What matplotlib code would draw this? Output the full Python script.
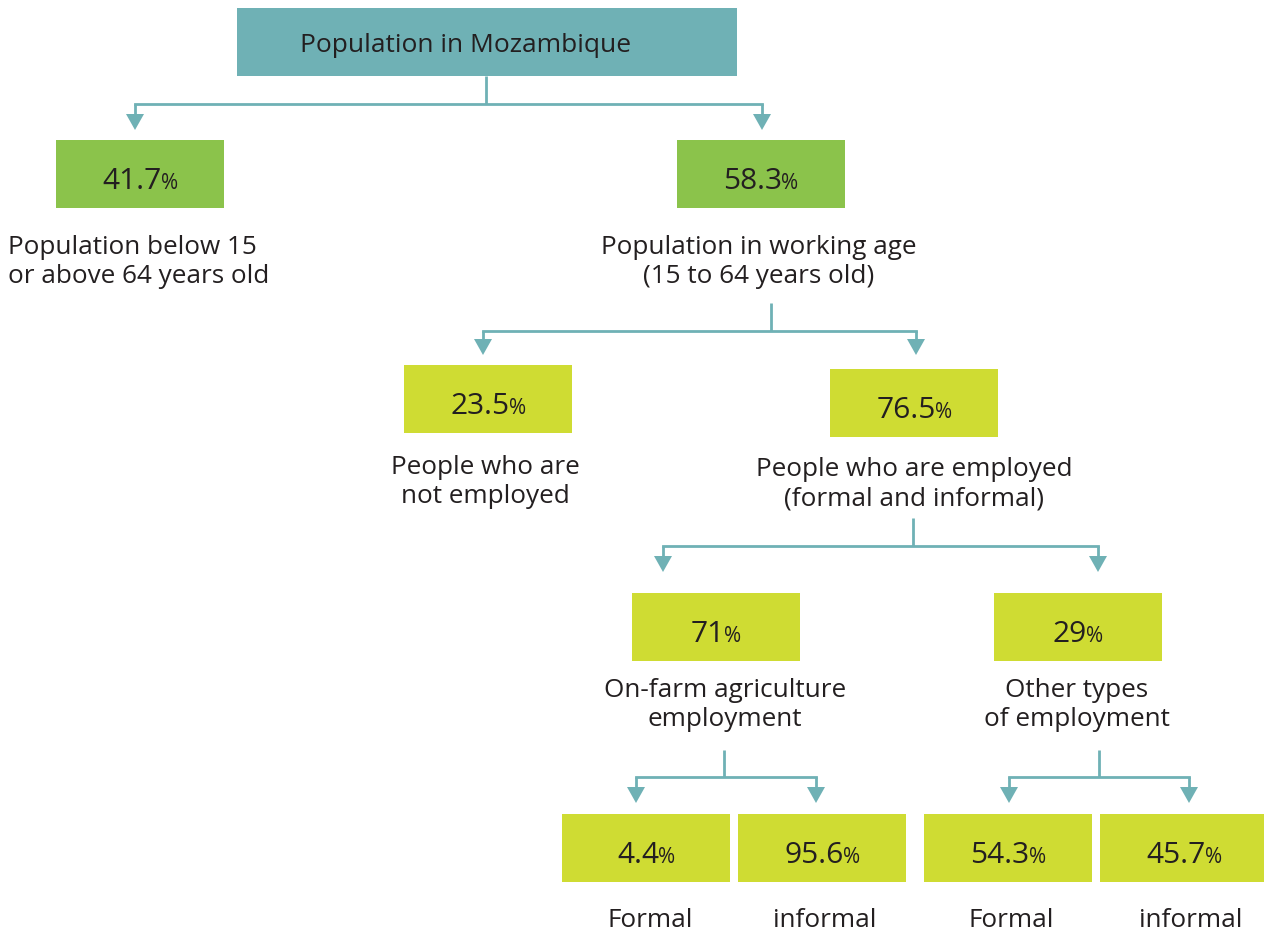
import matplotlib
matplotlib.use("Agg")
import matplotlib.pyplot as plt
from matplotlib.patches import Rectangle, Polygon

# ---------------- data ----------------
title = "Population in Mozambique"
values = ["41.7", "58.3", "23.5", "76.5", "71", "29", "4.4", "95.6", "54.3", "45.7"]
unit = "%"
labels = [
    "Population below 15\nor above 64 years old",
    "Population in working age\n(15 to 64 years old)",
    "People who are\nnot employed",
    "People who are employed\n(formal and informal)",
    "On-farm agriculture\nemployment",
    "Other types\nof employment",
    "Formal",
    "informal",
    "Formal",
    "informal",
]

# ---------------- layout (pixels) ----------------
W, H = 1264, 933
box_x = [56, 677, 404, 830, 632, 994, 562, 738, 924, 1100]
box_y = [140, 140, 365, 369, 593, 593, 814, 814, 814, 814]
box_w, box_h = 168, 68
box_level = [0, 0, 1, 1, 1, 1, 1, 1, 1, 1]
label_x = [8, 759, 485, 914, 725, 1077, 650, 825, 1011, 1191]
label_ha = ["left", "center", "center", "center", "center", "center",
            "center", "center", "center", "center"]
label_y = [254, 254, 474, 476, 697, 697, 927, 927, 927, 927]
line_gap = 29

# connectors: stem_x, stem_top, bar_y, left_x, right_x, tip_y
connectors = [
    (486, 76, 104, 135, 762, 130),
    (771, 303, 331, 483, 916, 355),
    (913, 518, 546, 663, 1098, 572),
    (724, 750, 777, 636, 816, 803),
    (1099, 750, 777, 1009, 1189, 803),
]
head_h, head_hw = 16, 9

TEAL = "#6fb1b5"
GREEN = "#8bc34b"
LIME = "#cfdc33"
TEXT = "#231f20"

plt.rcParams["font.family"] = ["Open Sans", "DejaVu Sans"]

fig = plt.figure(figsize=(W / 100, H / 100), dpi=100)
ax = fig.add_axes([0, 0, 1, 1])
ax.set_xlim(0, W)
ax.set_ylim(H, 0)
ax.axis("off")

# title box
ax.add_patch(Rectangle((237, 8), 500, 68, facecolor=TEAL, edgecolor="none"))
ax.text(300, 52, title, fontsize=19, color=TEXT, ha="left", va="baseline")

# connectors
LW = 2.0
for sx, st, by, lx, rx, ty in connectors:
    ax.plot([sx, sx], [st, by], color=TEAL, lw=LW, solid_capstyle="butt")
    ax.plot([lx, rx], [by, by], color=TEAL, lw=LW, solid_capstyle="projecting")
    for x in (lx, rx):
        ax.plot([x, x], [by, ty - head_h + 1], color=TEAL, lw=LW, solid_capstyle="butt")
        ax.add_patch(Polygon([(x - head_hw, ty - head_h), (x + head_hw, ty - head_h), (x, ty)],
                             closed=True, facecolor=TEAL, edgecolor="none"))

renderer = fig.canvas.get_renderer()

# boxes, values and labels
for i, v in enumerate(values):
    col = GREEN if box_level[i] == 0 else LIME
    ax.add_patch(Rectangle((box_x[i], box_y[i]), box_w, box_h, facecolor=col, edgecolor="none"))
    cx = box_x[i] + box_w / 2
    base = box_y[i] + 49
    t1 = ax.text(0, base, v, fontsize=21.5, color=TEXT, ha="left", va="baseline")
    t2 = ax.text(0, base, unit, fontsize=15, color=TEXT, ha="left", va="baseline")
    w1 = t1.get_window_extent(renderer).width
    w2 = t2.get_window_extent(renderer).width
    gap = -1
    x0 = cx - (w1 + w2 + gap) / 2
    t1.set_x(x0)
    t2.set_x(x0 + w1 + gap)

    for j, line in enumerate(labels[i].split("\n")):
        ax.text(label_x[i], label_y[i] + j * line_gap, line, fontsize=18.8, color=TEXT,
                ha=label_ha[i], va="baseline")

fig.savefig("out.png", dpi=100, facecolor="white")
